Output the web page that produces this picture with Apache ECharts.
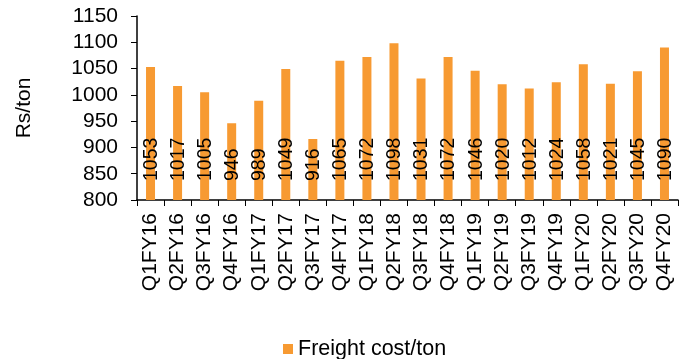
<!DOCTYPE html>
<html>
<head>
<meta charset="utf-8">
<script src="https://cdn.jsdelivr.net/npm/echarts@6/dist/echarts.min.js"></script>
<style>
  html, body { margin: 0; padding: 0; background: #fff; }
  #chart { width: 693px; height: 359px; }
</style>
</head>
<body>
<div id="chart"></div>
<script>
// Quarterly freight cost per ton (Rs/ton)
const quarters = [
  'Q1FY16', 'Q2FY16', 'Q3FY16', 'Q4FY16',
  'Q1FY17', 'Q2FY17', 'Q3FY17', 'Q4FY17',
  'Q1FY18', 'Q2FY18', 'Q3FY18', 'Q4FY18',
  'Q1FY19', 'Q2FY19', 'Q3FY19', 'Q4FY19',
  'Q1FY20', 'Q2FY20', 'Q3FY20', 'Q4FY20'
];
const freightCost = [
  1053, 1017, 1005, 946,
  989, 1049, 916, 1065,
  1072, 1098, 1031, 1072,
  1046, 1020, 1012, 1024,
  1058, 1021, 1045, 1090
];
const yTicks = { min: 800, max: 1150, step: 50 };

const FONT = '"Liberation Sans", Arial, sans-serif';
const chart = echarts.init(document.getElementById('chart'), null, { renderer: 'canvas' });

chart.setOption({
  animation: false,
  backgroundColor: '#ffffff',
  textStyle: { fontFamily: FONT, color: '#000' },
  grid: { left: 137, right: 15, top: 16, bottom: 159, containLabel: false },
  legend: {
    top: 333,
    left: 278,
    itemWidth: 10,
    itemHeight: 10,
    icon: 'rect',
    itemGap: 8,
    textStyle: { fontFamily: FONT, fontSize: 21.5, color: '#000' },
    data: ['Freight cost/ton']
  },
  xAxis: {
    type: 'category',
    data: quarters,
    boundaryGap: true,
    axisLine: { lineStyle: { color: '#000', width: 1.5 } },
    axisTick: { show: true, length: 6, alignWithLabel: false, lineStyle: { color: '#000' } },
    axisLabel: {
      rotate: 90,
      interval: 0,
      margin: 13,
      fontFamily: FONT,
      fontSize: 21,
      color: '#000'
    },
    splitLine: { show: false }
  },
  yAxis: {
    type: 'value',
    min: yTicks.min,
    max: yTicks.max,
    interval: yTicks.step,
    name: 'Rs/ton',
    nameLocation: 'middle',
    nameRotate: 90,
    nameGap: 102,
    nameTextStyle: { fontFamily: FONT, fontSize: 21, color: '#000' },
    axisLine: { show: true, lineStyle: { color: '#000', width: 1.5 } },
    axisTick: { show: true, length: 6, inside: false, lineStyle: { color: '#000' } },
    axisLabel: {
      fontFamily: FONT, fontSize: 21, color: '#000', margin: 19,
      formatter: (v) => String(v)
    },
    splitLine: { show: false }
  },
  series: [{
    name: 'Freight cost/ton',
    type: 'bar',
    data: freightCost,
    barWidth: 9,
    itemStyle: { color: '#F79A32' },
    label: {
      show: true,
      position: 'insideBottom',
      distance: 19,
      rotate: 90,
      align: 'left',
      verticalAlign: 'middle',
      offset: [0, 1],
      fontFamily: FONT,
      fontSize: 19.5,
      color: '#000'
    }
  }]
});
</script>
</body>
</html>
